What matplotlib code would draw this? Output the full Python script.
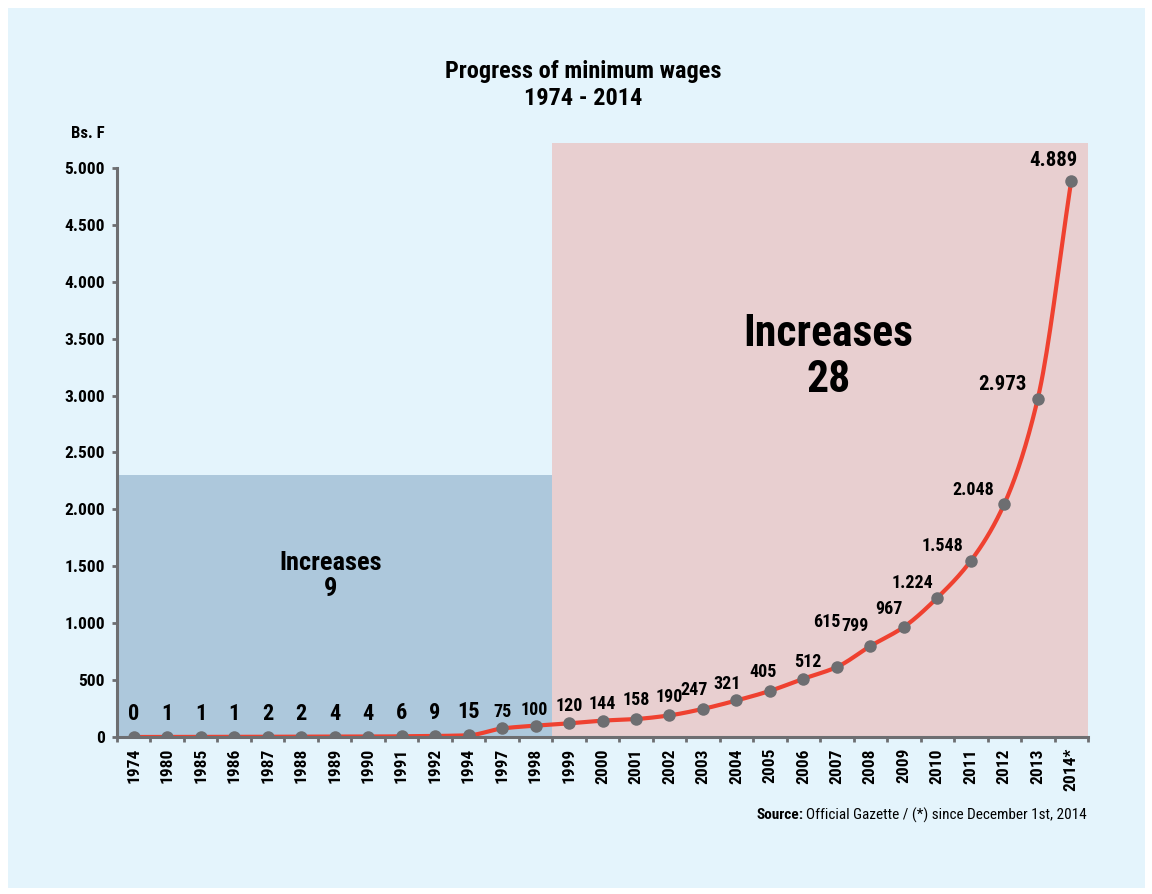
import numpy as np
import matplotlib
matplotlib.use("Agg")
import matplotlib.pyplot as plt
from matplotlib.patches import Rectangle
from matplotlib import font_manager as fm

# ---------------- data ----------------
years = ["1974", "1980", "1985", "1986", "1987", "1988", "1989", "1990", "1991",
         "1992", "1994", "1997", "1998", "1999", "2000", "2001", "2002", "2003",
         "2004", "2005", "2006", "2007", "2008", "2009", "2010", "2011", "2012",
         "2013", "2014*"]
wages = [0, 1, 1, 1, 2, 2, 4, 4, 6, 9, 15, 75, 100, 120, 144, 158, 190, 247,
         321, 405, 512, 615, 799, 967, 1224, 1548, 2048, 2973, 4889]
value_labels = ["0", "1", "1", "1", "2", "2", "4", "4", "6", "9", "15", "75", "100",
                "120", "144", "158", "190", "247", "321", "405", "512", "615",
                "799", "967", "1.224", "1.548", "2.048", "2.973", "4.889"]
y_ticks = [0, 500, 1000, 1500, 2000, 2500, 3000, 3500, 4000, 4500, 5000]
y_tick_labels = ["0", "500", "1.000", "1.500", "2.000", "2.500", "3.000",
                 "3.500", "4.000", "4.500", "5.000"]
period1_count = 13      # categories in first period (1974-1998)
period1_height = 2300
period2_height = 5220
increases_1 = "Increases\n9"
increases_2 = "Increases\n28"

# ---------------- fonts ----------------
def pick_font(cands):
    for c in cands:
        ok = [f for f in fm.fontManager.ttflist
              if f.name == c and f.weight == 700 and "[" not in f.fname]
        if ok:
            return c
    return "DejaVu Sans"

FONT = pick_font(["Roboto Condensed", "Barlow Semi Condensed", "Fira Sans Condensed",
                  "Liberation Sans Narrow", "Asap Condensed"])
plt.rcParams["font.family"] = [FONT, "DejaVu Sans"]

# ---------------- figure ----------------
W, H = 1152, 894
fig = plt.figure(figsize=(W / 100, H / 100), dpi=100)
fig.patch.set_facecolor("white")
fig.add_artist(Rectangle((8 / W, 6 / H), (1145 - 8) / W, (888 - 8) / H,
                         transform=fig.transFigure, facecolor="#e4f4fc",
                         edgecolor="none", zorder=0))

ax = fig.add_axes([117 / W, 1 - 737 / H, (1088 - 117) / W, (737 - 168) / H])
ax.set_facecolor("none")
n = len(years)
x = np.arange(n)
ax.set_xlim(-0.5, n - 0.5)
ax.set_ylim(0, 5000)

grey = "#6d6e71"
blue = "#adc8dc"
pink = "#e8cfd0"
red = "#ef4130"

ax.add_patch(Rectangle((-0.5, 0), period1_count, period1_height,
                       facecolor=blue, edgecolor="none", zorder=1))
ax.add_patch(Rectangle((period1_count - 0.5, 0), n - period1_count, period2_height,
                       facecolor=pink, edgecolor="none", zorder=1, clip_on=False))

# smooth line (monotone cubic Hermite rendering through the data points)
yv = np.array(wages, dtype=float)
d = np.diff(yv)
m = np.zeros(n)
m[0], m[-1] = d[0], d[-1]
for i in range(1, n - 1):
    if d[i - 1] * d[i] <= 0:
        m[i] = 0
    else:
        m[i] = 2 / (1 / d[i - 1] + 1 / d[i])
xs, ys = [], []
for i in range(n - 1):
    t = np.linspace(0, 1, 20)
    h00 = 2 * t**3 - 3 * t**2 + 1
    h10 = t**3 - 2 * t**2 + t
    h01 = -2 * t**3 + 3 * t**2
    h11 = t**3 - t**2
    xs.extend(x[i] + t)
    ys.extend(h00 * yv[i] + h10 * m[i] + h01 * yv[i + 1] + h11 * m[i + 1])
ax.plot(xs, ys, color=red, lw=3, zorder=3, solid_capstyle="round")
ax.plot(x, wages, "o", color=grey, ms=9, zorder=4, markeredgewidth=0)

# value labels: offsets in pixels from the point
offsets = [(0, 23)] * 11 + [(0, 16), (-1, 16), (0, 17), (0, 17), (0, 19), (0, 18),
                            (-9, 19), (-9, 16), (-7, 19), (4, 17), (-10, 45),
                            (-15, 20), (-15, 18), (-25, 15), (-28, 15), (-31, 14),
                            (-35, 14), (-18, 20)]
sizes = [16] * 11 + [13] * 16 + [15, 15]
for i in range(n):
    dx, dy = offsets[i]
    ax.annotate(value_labels[i], (x[i], wages[i]), xytext=(dx, dy),
                textcoords="offset pixels", ha="center", va="center",
                fontsize=sizes[i], fontweight="bold", zorder=5)

# axes styling
for s in ["top", "right"]:
    ax.spines[s].set_visible(False)
for s in ["left", "bottom"]:
    ax.spines[s].set_color(grey)
    ax.spines[s].set_linewidth(2.2)
    ax.spines[s].set_zorder(6)
ax.set_xticks(x)
ax.set_xticklabels(years, rotation=90, fontsize=12.5, fontweight="bold")
ax.set_xticks(np.arange(-0.5, n, 1.0), minor=True)
ax.tick_params(axis="x", which="major", length=0, pad=8)
ax.tick_params(axis="x", which="minor", length=3.8, width=2, color=grey, direction="out")
ax.set_yticks(y_ticks)
ax.set_yticklabels(y_tick_labels, fontsize=12.5, fontweight="bold")
ax.tick_params(axis="y", length=3.8, width=2, color=grey, pad=5)

ax.text(5.89, 1415, increases_1, ha="center", va="center",
        fontsize=19, fontweight="bold", linespacing=1.1, zorder=5)
ax.text(20.74, 3339, increases_2, ha="center", va="center",
        fontsize=31.5, fontweight="bold", linespacing=1.1, zorder=5)

# titles and notes
fig.text(583 / W, 1 - 85 / H, "Progress of minimum wages\n1974 - 2014",
         ha="center", va="center", fontsize=17.5, fontweight="bold", linespacing=1.2)
fig.text(88 / W, 1 - 133 / H, "Bs. F", ha="center", va="center",
         fontsize=12, fontweight="bold")
src = fig.text(1087 / W, 1 - 815 / H, "Official Gazette / (*) since December 1st, 2014",
               ha="right", va="center", fontsize=11)
fig.canvas.draw()
bb = src.get_window_extent()
fig.text((bb.x0 - 3) / W, 1 - 815 / H, "Source:", ha="right", va="center",
         fontsize=11, fontweight="bold")

fig.savefig("out.png", dpi=100, facecolor="white")
